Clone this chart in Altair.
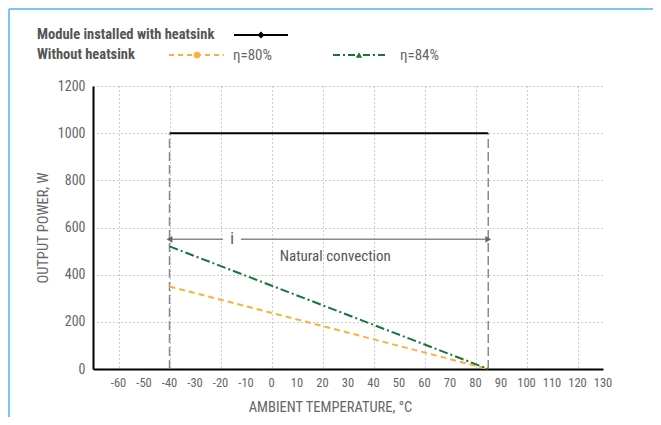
import altair as alt
import pandas as pd

# ---- data ----
temps_heatsink = [-40, 85]
power_heatsink = [1000, 1000]
temps_80 = [-40, 85]
power_80 = [350, 0]
temps_84 = [-40, 85]
power_84 = [520, 0]
boundary_temps = [-40, 85]
boundary_top = [1000, 1000]
arrow_level = 550
arrow_segments_start = [-40, -12]
arrow_segments_end = [-19, 85]
x_ticks = list(range(-60, 131, 10))
x_tick_labels = [str(v) for v in x_ticks]
y_ticks = list(range(0, 1201, 200))

FONT = "Liberation Sans Narrow, Roboto Condensed, Noto Sans, sans-serif"
GRAY = "#555555"
LGRAY = "#666666"
ORANGE = "#F9B13C"
GREEN = "#17753A"

xs = alt.Scale(domain=[-70, 130], nice=False, zero=False)
ys = alt.Scale(domain=[0, 1200], nice=False)

xax = alt.Axis(values=x_ticks, title="AMBIENT TEMPERATURE, °C", ticks=False, labels=False,
               titlePadding=31, titleX=237, titleAlign="center",
               grid=True, gridDash=[1, 3], gridColor="#9a9a9a",
               domainColor="black", domainWidth=2)
yax = alt.Axis(values=y_ticks, title="OUTPUT POWER, W", ticks=False, labelPadding=8,
               titlePadding=7, grid=True, gridDash=[1, 3], gridColor="#9a9a9a",
               domainColor="black", domainWidth=2, labelOverlap=False, labelFontSize=14,
               labelExpr="'' + datum.value")

def line_df(t, p):
    return pd.DataFrame({"t": t, "p": p})

base_heat = alt.Chart(line_df(temps_heatsink, power_heatsink)).mark_line(
    color="black", strokeWidth=2).encode(
    x=alt.X("t:Q", scale=xs, axis=xax), y=alt.Y("p:Q", scale=ys, axis=yax))

xlabels = alt.Chart(pd.DataFrame({"t": x_ticks, "lab": x_tick_labels})).mark_text(
    font=FONT, color=LGRAY, fontSize=12.5, baseline="middle").encode(
    x=alt.X("t:Q", scale=xs), y=alt.value(297), text="lab:N")

l80 = alt.Chart(line_df(temps_80, power_80)).mark_line(
    color=ORANGE, strokeWidth=2, strokeDash=[6, 4]).encode(x=alt.X("t:Q", scale=xs), y=alt.Y("p:Q", scale=ys))
l84 = alt.Chart(line_df(temps_84, power_84)).mark_line(
    color=GREEN, strokeWidth=2, strokeDash=[9, 3, 2, 3]).encode(x=alt.X("t:Q", scale=xs), y=alt.Y("p:Q", scale=ys))

bounds = alt.Chart(pd.DataFrame({"t": boundary_temps, "top": boundary_top, "bot": [0, 0]})).mark_rule(
    color="#8a8a8a", strokeWidth=1.5, strokeDash=[9, 4]).encode(
    x=alt.X("t:Q", scale=xs), y=alt.Y("bot:Q", scale=ys), y2="top:Q")

arrow_df = pd.DataFrame({"a": arrow_segments_start, "b": arrow_segments_end, "y": [arrow_level] * 2})
arrow = alt.Chart(arrow_df).mark_rule(color="#8a8a8a", strokeWidth=1.5).encode(
    x=alt.X("a:Q", scale=xs), x2="b:Q", y=alt.Y("y:Q", scale=ys))
heads_df = pd.DataFrame({"t": boundary_temps, "y": [arrow_level] * 2,
                         "s": ["triangle-left", "triangle-right"]})
heads = alt.Chart(heads_df).mark_point(filled=True, color="#666666", size=45, opacity=1).encode(
    x=alt.X("t:Q", scale=xs), y=alt.Y("y:Q", scale=ys), shape=alt.Shape("s:N", scale=None, legend=None))

labels_df = pd.DataFrame({"t": [-15.5, 25], "y": [arrow_level, 480], "txt": ["i", "Natural convection"],
                          "sz": [16, 15]})
labels = alt.Chart(labels_df).mark_text(font=FONT, color=GRAY, baseline="middle").encode(
    x=alt.X("t:Q", scale=xs), y=alt.Y("y:Q", scale=ys), text="txt:N",
    size=alt.Size("sz:Q", scale=None, legend=None))

# ---- legend built by hand (pixel layout) ----
one = pd.DataFrame({"a": [0]})
leg_t1 = alt.Chart(one).mark_text(font=FONT, fontWeight="bold", color=GRAY, fontSize=14.5, align="left",
                                  baseline="middle").encode(x=alt.value(-56), y=alt.value(-51),
                                                            text=alt.value("Module installed with heatsink"))
leg_t2 = alt.Chart(one).mark_text(font=FONT, fontWeight="bold", color=GRAY, fontSize=14.5, align="left",
                                  baseline="middle").encode(x=alt.value(-56), y=alt.value(-31),
                                                            text=alt.value("Without heatsink"))
leg_t3 = alt.Chart(one).mark_text(font=FONT, color=LGRAY, fontSize=15, align="left",
                                  baseline="middle").encode(x=alt.value(140), y=alt.value(-31),
                                                            text=alt.value("η=80%"))
leg_t4 = alt.Chart(one).mark_text(font=FONT, color=LGRAY, fontSize=15, align="left",
                                  baseline="middle").encode(x=alt.value(307), y=alt.value(-31),
                                                            text=alt.value("η=84%"))
leg_l1 = alt.Chart(one).mark_rule(color="black", strokeWidth=2).encode(
    x=alt.value(141), x2=alt.value(195), y=alt.value(-51))
leg_p1 = alt.Chart(one).mark_point(shape="diamond", filled=True, color="black", size=50, opacity=1).encode(
    x=alt.value(168), y=alt.value(-51))
leg_l2 = alt.Chart(one).mark_rule(color=ORANGE, strokeWidth=2, strokeDash=[5, 4]).encode(
    x=alt.value(76), x2=alt.value(131), y=alt.value(-31))
leg_p2 = alt.Chart(one).mark_point(shape="circle", filled=True, color=ORANGE, size=45, opacity=1).encode(
    x=alt.value(104), y=alt.value(-31))
leg_l3 = alt.Chart(one).mark_rule(color=GREEN, strokeWidth=2, strokeDash=[7, 3, 2, 3]).encode(
    x=alt.value(240), x2=alt.value(295), y=alt.value(-31))
leg_p3 = alt.Chart(one).mark_point(shape="triangle-up", filled=True, color=GREEN, size=40, opacity=1).encode(
    x=alt.value(266), y=alt.value(-31))

frame_top = alt.Chart(one).mark_rule(color="#74C9F2", strokeWidth=2).encode(
    x=alt.value(-84), x2=alt.value(560), y=alt.value(-77))
frame_left = alt.Chart(one).mark_rule(color="#74C9F2", strokeWidth=2).encode(
    x=alt.value(-84), y=alt.value(-77), y2=alt.value(340))

chart = alt.layer(
    frame_top, frame_left, base_heat, xlabels, bounds, l80, l84, arrow, heads, labels,
    leg_t1, leg_t2, leg_t3, leg_t4, leg_l1, leg_p1, leg_l2, leg_p2, leg_l3, leg_p3
).properties(
    width=510, height=283,
    autosize=alt.AutoSizeParams(type="none"),
    padding={"left": 85, "top": 78, "right": 50, "bottom": 48},
).configure_view(stroke=None).configure_axis(
    labelFont=FONT, labelColor=LGRAY, labelFontSize=12,
    titleFont=FONT, titleColor=LGRAY, titleFontSize=14.5, titleFontWeight="normal",
)

chart.save("out.html", embed_options={"renderer": "svg", "actions": False})
